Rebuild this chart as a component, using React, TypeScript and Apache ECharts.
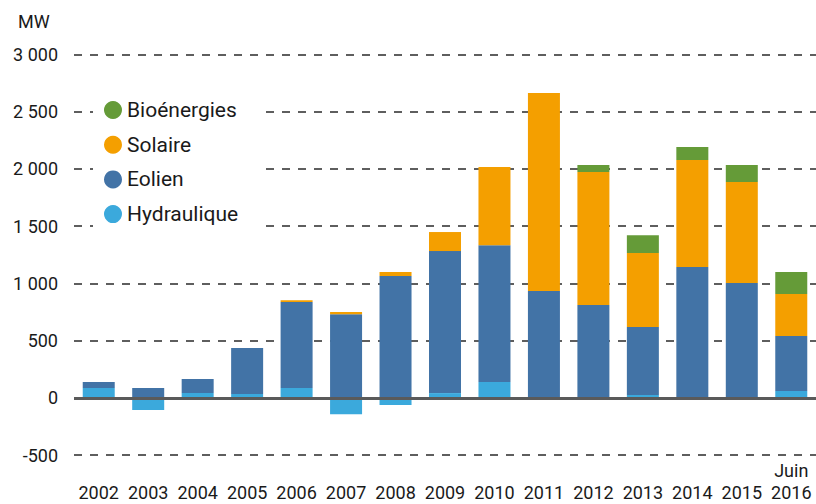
import React, { useEffect, useRef } from "react";
import * as echarts from "echarts";

const categories = ["2002", "2003", "2004", "2005", "2006", "2007", "2008", "2009", "2010", "2011", "2012", "2013", "2014", "2015", "Juin\n2016"];
const hydraulique = [85, -107, 41, 32, 85, -143, -64, 41, 137, 0, 0, 24, 0, 0, 59];
const eolien = [52, 85, 122, 402, 751, 730, 1063, 1241, 1196, 933, 810, 594, 1142, 1002, 480];
const solaire = [0, 0, 0, 0, 17, 19, 35, 166, 684, 1730, 1163, 647, 935, 884, 367];
const bioenergies = [0, 0, 0, 0, 0, 0, 0, 0, 0, 0, 61, 156, 114, 148, 192];
const yTicks = { min: -500, max: 3000, interval: 500 };

const FONT = "Roboto, 'Noto Sans', sans-serif";

export default function App() {
  const ref = useRef<HTMLDivElement>(null);
  useEffect(() => {
    if (!ref.current) return;
    const chart = echarts.init(ref.current, null, { renderer: "svg" });
    const mk = (name: string, data: number[], color: string) => ({
      name,
      type: "bar",
      stack: "total",
      data,
      barWidth: 32,
      itemStyle: { color },
    });
    const hyd: any = mk("Hydraulique", hydraulique, "#3ba9dc");
    hyd.markLine = {
      silent: true,
      symbol: "none",
      label: { show: false },
      lineStyle: { type: "solid", color: "#5a5a5a", width: 3 },
      data: [{ yAxis: 0 }],
      z: 10,
    };
    chart.setOption({
      animation: false,
      textStyle: { fontFamily: FONT },
      grid: { left: 74, right: 0, top: 54.4, bottom: 49, outerBoundsMode: "none", containLabel: false },
      legend: {
        orient: "vertical",
        left: 93,
        top: 89,
        padding: [10, 25, 8, 11],
        backgroundColor: "#ffffff",
        icon: "circle",
        itemWidth: 18,
        itemHeight: 18,
        itemGap: 12.7,
        data: ["Bioénergies", "Solaire", "Eolien", "Hydraulique"],
        textStyle: { fontSize: 21, lineHeight: 22, color: "#1a1a1a", fontFamily: FONT },
        z: 20,
      },
      graphic: [
        {
          type: "text",
          left: 18,
          top: 12,
          style: { text: "MW", fontSize: 18, fill: "#1a1a1a", fontFamily: FONT },
        },
      ],
      xAxis: {
        type: "category",
        data: categories,
        axisLine: { show: false, onZero: false },
        axisTick: { show: false },
        axisLabel: {
          interval: 0,
          margin: 5,
          fontSize: 18,
          lineHeight: 21.5,
          color: "#1a1a1a",
          fontFamily: FONT,
          formatter: (v: string) => (v.indexOf("\n") >= 0 ? v : "\n" + v),
        },
      },
      yAxis: {
        type: "value",
        min: yTicks.min,
        max: yTicks.max,
        interval: yTicks.interval,
        axisLine: { show: false },
        axisTick: { show: false },
        axisLabel: {
          margin: 16,
          fontSize: 18,
          color: "#1a1a1a",
          fontFamily: FONT,
          formatter: (v: number) => {
            const s = Math.abs(v).toString().replace(/\B(?=(\d{3})+(?!\d))/g, " ");
            return (v < 0 ? "-" : "") + s;
          },
        },
        splitLine: { lineStyle: { type: [8, 8], color: "#2a2a2a", width: 1.5 } },
      },
      series: [
        hyd,
        mk("Eolien", eolien, "#4273a6"),
        mk("Solaire", solaire, "#f49f00"),
        mk("Bioénergies", bioenergies, "#659b38"),
      ],
    });
    return () => chart.dispose();
  }, []);
  return (
    <div
      ref={ref}
      style={{ position: "fixed", left: 0, top: 0, width: 816, height: 504, background: "#fff" }}
    />
  );
}
